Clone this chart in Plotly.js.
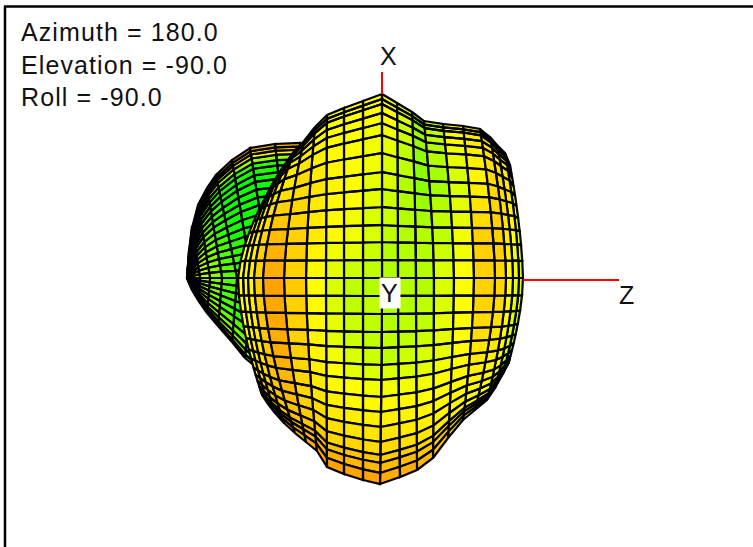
<!DOCTYPE html>
<html>
<head>
<meta charset="utf-8">
<script src="https://cdn.plot.ly/plotly-3.0.1.min.js"></script>
<style>
  html, body { margin: 0; padding: 0; background: #fff; }
  #chart { width: 753px; height: 547px; }
  .annotation-text { letter-spacing: 1.1px; }
</style>
</head>
<body>
<div id="chart"></div>
<script>
/* ---- Front lobe: meridians read at the Z axis and where they meet the outline ---- */
const colEq = [-144,-139,-134,-128,-119,-98,-76,-56,-38,-19,0,16,34,52,72,92,113,124,131,137,141];
const colTopZ = [-110,-104,-99,-94,-87,-78,-67,-55,-38,-19,0,15,30,42,61,81,98,108,115,123,128];
const colTopX = [95,105,113,120,130,139,153,165,172,179,186,177,168,159,156,154,151,143,135,127,115];
const colBotZ = [-120,-114,-107,-98,-87,-76,-65,-55,-38,-19,-2,18,35,51,66,81,93,105,113,121,128];
const colBotX = [-115,-124,-133,-143,-153,-162,-171,-187,-194,-200,-204,-197,-190,-178,-158,-140,-130,-120,-108,-93,-78];

// parallels read along the middle meridian
const rowX = [186,181,176,167,157,145,127,108,91,73,55,38,20,2,-16,-34,-52,-68,-85,-100,-117,-132,-147,-162,-175,-183,-193,-204];

// colour level (0 green, 0.5 yellow, 1 orange) of the cells at a few heights
const toneHeights = [170, 110, 50, -5, -70, -120, -165, -198];
const tone170 = [.5,.5,.52,.55,.55,.55,.5,.5,.5,.5,.5,.42,.3,.38,.5,.6,.62,.6,.55,.5];
const tone110 = [.5,.5,.55,.6,.62,.68,.62,.55,.5,.46,.42,.36,.27,.31,.42,.55,.68,.68,.6,.5];
const tone50 = [.5,.55,.6,.7,.82,.72,.6,.52,.48,.42,.38,.36,.34,.38,.46,.72,.74,.62,.5,.45];
const toneM5 = [.5,.5,.55,.74,.94,.74,.5,.43,.38,.36,.33,.34,.36,.43,.5,.74,.7,.5,.45,.42];
const toneM70 = [.5,.55,.6,.78,.9,.72,.55,.45,.4,.38,.37,.38,.4,.45,.5,.64,.62,.5,.42,.36];
const toneM120 = [.6,.65,.7,.8,.85,.7,.62,.55,.52,.5,.5,.5,.5,.5,.52,.55,.52,.46,.4,.35];
const toneM165 = [.7,.72,.75,.78,.8,.75,.72,.68,.66,.65,.65,.63,.6,.58,.55,.52,.48,.45,.42,.4];
const toneM198 = [.75,.75,.78,.8,.85,.9,.95,.95,.95,.95,.9,.9,.85,.8,.7,.6,.55,.5,.45,.4];
const toneTable = [tone170, tone110, tone50, toneM5, toneM70, toneM120, toneM165, toneM198];

/* ---- Back lobe: parallels from the pole outwards ---- */
const backTopZ = [-195,-193,-190,-184,-175,-166,-150,-132,-107,-82];
const backTopX = [2,30,54,75,92,105,120,132,136,137];
const backMidZ = [-195,-189,-182,-172,-160,-145,-130,-112,-92,-72];
const backBotZ = [-195,-190,-184,-175,-164,-150,-137,-120,-102,-82];
const backBotX = [2,-10,-20,-33,-46,-62,-78,-92,-105,-115];
const backMeridians = [-1,-.96,-.9,-.82,-.72,-.6,-.48,-.36,-.24,-.12,0,.07,.14,.21,.28,.35,.42,.49,.56,.62,.68,.74,.79,.84,.88,.92,.95,.975,1];
const backMeridianTone = [.3,.3,.25,.2,.15,.1,.1,.08,.08,.1,.12,.12,.12,.1,.08,.06,.05,.03,.03,.03,.03,.03,.05,.1,.3,.55,.75,.85];
const backRingTone = [.4,.34,.26,.16,.06,0,0,0,0];

/* ---- Axes and labels ---- */
const axisXLine = { z: [0, 0], x: [186, 208] };
const axisZLine = { z: [141, 237], x: [0, 0] };
const infoLabels = ['Azimuth = 180.0', 'Elevation = -90.0', 'Roll = -90.0'];

const lerp = (a, b, t) => a + (b - a) * t;

// front lobe node: parallels stay level, they only squeeze together near the outline
const frontNode = (i, j) => {
  const up = rowX[i] >= 0;
  const midEnd = up ? rowX[0] : -rowX[rowX.length - 1];
  const v = Math.abs(rowX[i]) / midEnd;
  const endZ = up ? colTopZ[j] : colBotZ[j];
  const endX = up ? colTopX[j] : -colBotX[j];
  const h = Math.abs(rowX[i]) + (endX - midEnd) * v * v;
  return [lerp(colEq[j], endZ, Math.pow(h / endX, 1.6)), up ? h : -h];
};

const backNode = (i, k) => {
  const w = backMeridians[k];
  return w >= 0
    ? [lerp(backMidZ[i], backTopZ[i], w), lerp(2, backTopX[i], w)]
    : [lerp(backMidZ[i], backBotZ[i], -w), lerp(2, backBotX[i], -w)];
};

const frontTone = (i, j) => {
  const h = (rowX[i] + rowX[i + 1]) / 2;
  let n = 0;
  while (n < toneHeights.length - 2 && h < toneHeights[n + 1]) n++;
  const t = Math.min(1, Math.max(0, (toneHeights[n] - h) / (toneHeights[n] - toneHeights[n + 1])));
  return lerp(toneTable[n][j], toneTable[n + 1][j], t);
};

const toneColor = (t) => {
  t = Math.min(1, Math.max(0, t));
  if (t <= 0.5) return `rgb(${Math.round(510 * t)},255,0)`;
  return `rgb(255,${Math.round(255 - 204 * (t - 0.5))},0)`;
};

// collects quads per colour so each colour is one scatter trace
const cellTraces = (nodeFn, rows, cols, toneFn, width) => {
  const bins = {};
  for (let i = 0; i < rows; i++) {
    for (let j = 0; j < cols; j++) {
      const key = Math.round(toneFn(i, j) * 40);
      const b = bins[key] || (bins[key] = { x: [], y: [] });
      [[i, j], [i + 1, j], [i + 1, j + 1], [i, j + 1], [i, j]].forEach(([a, c]) => {
        const p = nodeFn(a, c);
        b.x.push(p[0]);
        b.y.push(p[1]);
      });
      b.x.push(null);
      b.y.push(null);
    }
  }
  return Object.keys(bins).map(key => ({
    x: bins[key].x, y: bins[key].y, type: 'scatter', mode: 'lines', fill: 'toself',
    fillcolor: toneColor(key / 40), line: { color: '#000', width },
    hoverinfo: 'skip', showlegend: false
  }));
};

const traces = [
  ...cellTraces(backNode, backTopZ.length - 1, backMeridians.length - 1,
    (i, k) => backRingTone[i] + backMeridianTone[k], 2.2),
  ...cellTraces(frontNode, rowX.length - 1, colEq.length - 1, frontTone, 2.2),
  { x: axisXLine.z, y: axisXLine.x, type: 'scatter', mode: 'lines', line: { color: '#ff0000', width: 2 }, hoverinfo: 'skip', showlegend: false },
  { x: axisZLine.z, y: axisZLine.x, type: 'scatter', mode: 'lines', line: { color: '#ff0000', width: 2 }, hoverinfo: 'skip', showlegend: false }
];

const labelFont = { family: 'Liberation Sans, Arial, sans-serif', size: 25, color: '#111' };

const layout = {
  width: 753, height: 547,
  margin: { t: 0, l: 0, r: 0, b: 0 },
  paper_bgcolor: '#fff', plot_bgcolor: '#fff',
  showlegend: false,
  xaxis: { range: [-382, 371], visible: false, fixedrange: true },
  yaxis: { range: [-267, 280], visible: false, fixedrange: true },
  shapes: [
    { type: 'line', xref: 'paper', yref: 'paper', x0: 5 / 753, x1: 5 / 753, y0: 0, y1: 541 / 547, line: { color: '#000', width: 2.5 } },
    { type: 'line', xref: 'paper', yref: 'paper', x0: 4 / 753, x1: 1, y0: 540.5 / 547, y1: 540.5 / 547, line: { color: '#000', width: 2.5 } }
  ],
  annotations: [
    ...infoLabels.map((text, i) => ({
      text, xref: 'paper', yref: 'paper', x: 18.5 / 753, y: 1 - (32 + i * 32.5) / 547,
      xanchor: 'left', yanchor: 'middle', showarrow: false, font: labelFont
    })),
    { text: 'X', xref: 'x', yref: 'y', x: 7, y: 224, showarrow: false, font: labelFont },
    { text: 'Z', xref: 'x', yref: 'y', x: 245, y: -15, showarrow: false, font: labelFont },
    { text: 'Y', xref: 'x', yref: 'y', x: 8, y: -13, showarrow: false, font: labelFont, bgcolor: '#fff', borderpad: 1 }
  ]
};

Plotly.newPlot('chart', traces, layout, { staticPlot: true, displayModeBar: false });
</script>
</body>
</html>
